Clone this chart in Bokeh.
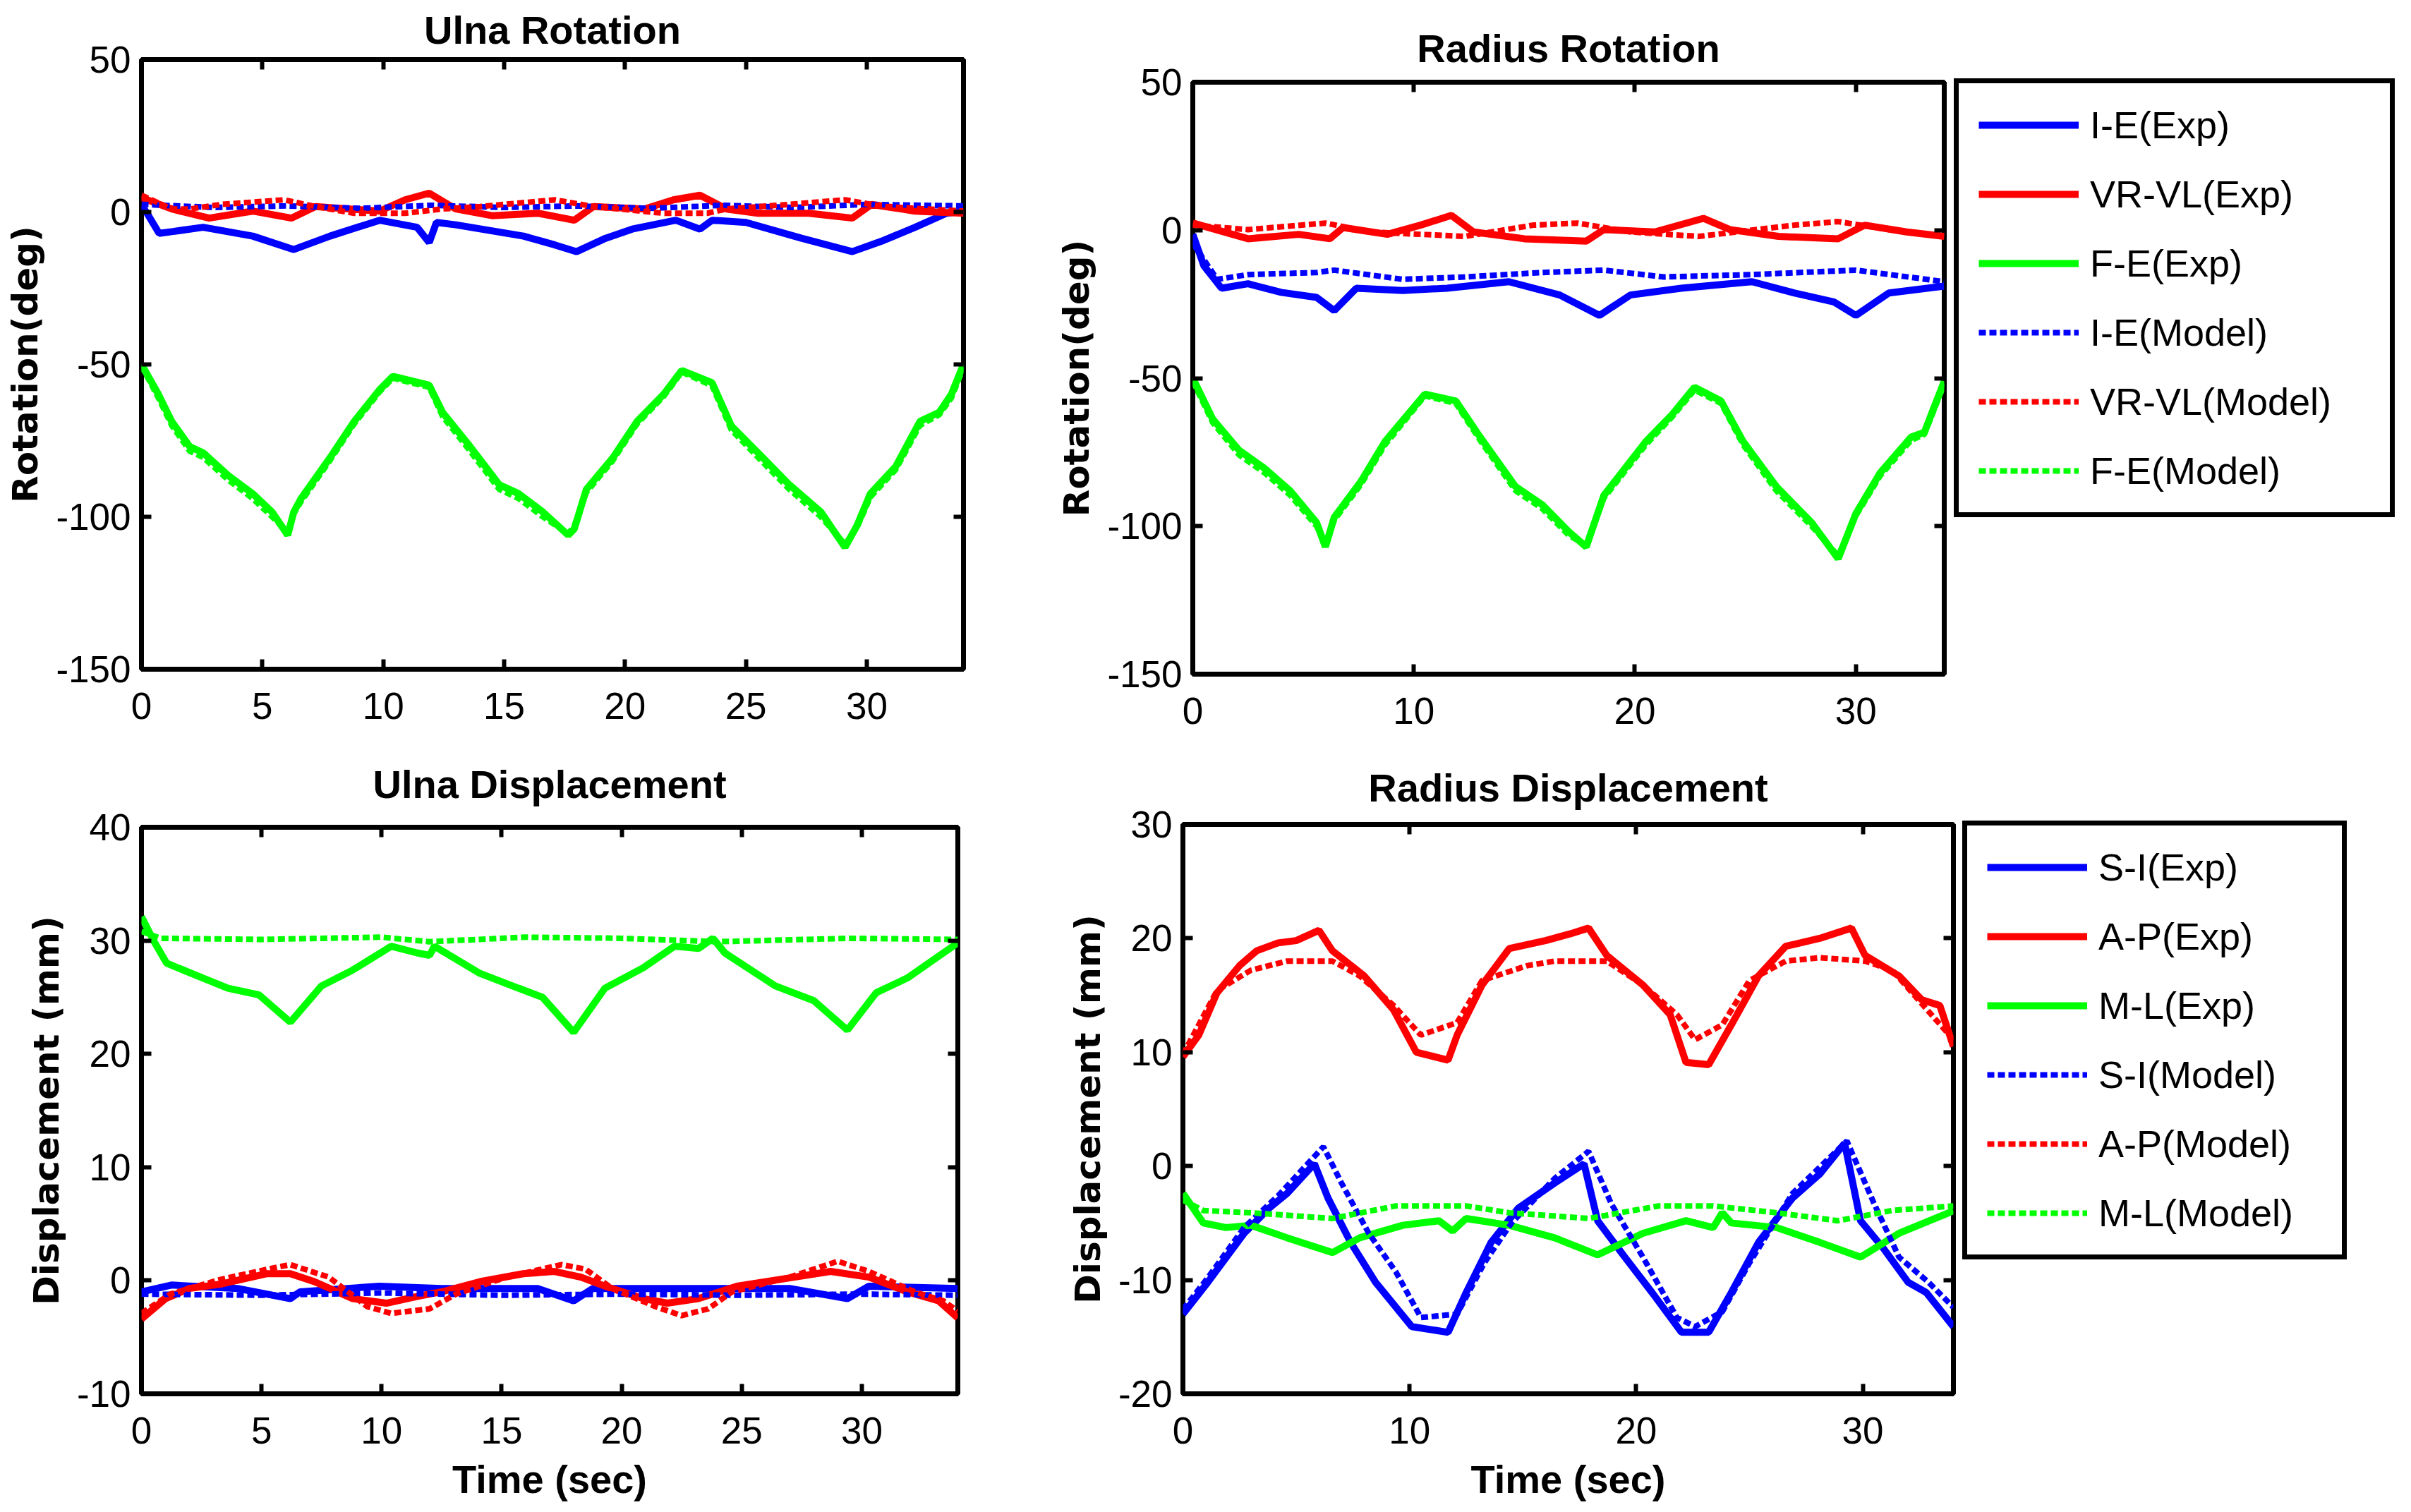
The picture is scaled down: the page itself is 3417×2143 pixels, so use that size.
from bokeh.plotting import figure
from bokeh.models import Range1d, FixedTicker, LinearAxis, Legend, LegendItem, CustomJSTickFormatter
from bokeh.layouts import row, column
from bokeh.embed import file_html
from bokeh.resources import INLINE

# ---------------- data ----------------
# Ulna Rotation
ur_ie_exp_t = [0, 0.2, 0.73, 1.3, 2.55, 4.6, 6.3, 7.8, 9.85, 11.4, 11.9, 12.2, 13.0, 15.8, 17.1, 18.0, 19.2, 20.3, 22.1, 23.1, 23.6, 25.0, 27.3, 29.4, 30.7, 32.0, 33.3, 34.0]
ur_ie_exp_y = [2, 0, -7, -6.4, -5, -7.9, -12.3, -7.9, -2.7, -5, -10, -3.4, -4.2, -7.9, -10.8, -13, -8.6, -5.6, -2.7, -5.6, -2.7, -3.4, -8.6, -13, -9.3, -5, -0.4, 0.3]
ur_vr_exp_t = [0, 1.25, 2.8, 4.6, 6.2, 7.2, 9.85, 10.9, 11.9, 13.0, 14.5, 16.4, 17.9, 18.7, 20.8, 22.0, 23.1, 24.2, 25.5, 27.6, 29.4, 30.2, 32.0, 34.0]
ur_vr_exp_y = [4.7, 1, -2, 0.3, -2, 1.8, 0.3, 4, 6.2, 1, -1.2, -0.4, -2.7, 1.8, 1, 4, 5.5, 1, -0.4, -0.4, -2, 2.5, 0.3, -0.4]
ur_fe_exp_t = [0, 0.7, 1.25, 2.0, 2.55, 3.6, 4.6, 5.4, 6.05, 6.3, 6.6, 7.8, 8.8, 9.85, 10.4, 11.9, 12.45, 13.5, 14.8, 15.6, 16.6, 17.65, 17.9, 18.4, 19.5, 20.5, 21.6, 22.35, 23.6, 24.4, 25.5, 26.8, 28.1, 29.1, 29.6, 30.15, 31.2, 32.2, 33.0, 33.5, 34.0]
ur_fe_exp_y = [-50, -59.8, -68.7, -77, -79, -86.5, -92.4, -98.4, -106, -98.4, -94, -80.6, -68.7, -58.3, -53.9, -56.8, -65.7, -76, -89.5, -92.4, -98.4, -106, -104, -91, -80.6, -68.7, -59.8, -52, -56, -70.2, -79, -89.5, -98.4, -110, -102.8, -92.4, -83.5, -68.7, -65.7, -59.8, -50]
ur_ie_mod_t = [0, 3, 6, 9, 12, 15, 18, 21, 24, 27, 30, 34]
ur_ie_mod_y = [2.5, 1.5, 2.0, 1.2, 2.2, 1.5, 2.0, 1.2, 2.2, 1.5, 2.5, 2.0]
ur_vr_mod_t = [0, 1.25, 2.0, 3.3, 5.9, 7.2, 8.8, 10.9, 12.45, 14.0, 17.1, 18.7, 21.6, 23.4, 24.2, 26.8, 29.1, 30.7, 34.0]
ur_vr_mod_y = [5.5, 1, 1, 2.5, 4, 1.8, -0.4, -0.4, 1, 1.8, 4, 1.8, -0.4, -0.4, 1, 2.5, 4, 1.8, 0.3]
ur_fe_mod_t = ur_fe_exp_t
ur_fe_mod_y = [-50.5, -61, -70, -78.5, -80.5, -88, -94, -100, -105, -99, -95, -81.5, -69.5, -59, -54.5, -57.5, -67, -77.5, -91, -94, -100, -105.5, -103, -92, -81.5, -69.5, -60.5, -52.5, -57, -71.5, -80.5, -91, -100, -109, -103.5, -93.5, -84.5, -70, -66.5, -61, -51]

# Radius Rotation
rr_ie_exp_t = [0, 0.5, 1.3, 2.5, 4.0, 5.6, 6.4, 7.4, 9.5, 11.5, 14.3, 16.6, 18.4, 19.8, 22.1, 25.3, 27.2, 29.0, 30.0, 31.5, 34.0]
rr_ie_exp_y = [-1.4, -12, -19.6, -18.1, -21, -22.7, -27.2, -19.6, -20.4, -19.6, -17.4, -21.9, -28.8, -21.9, -19.6, -17.4, -21.2, -24.2, -28.8, -21.2, -18.9]
rr_vr_exp_t = [0, 2.5, 4.8, 6.2, 6.8, 8.8, 10.3, 11.7, 12.7, 15.0, 17.8, 18.6, 20.9, 23.1, 24.3, 26.5, 29.2, 30.4, 32.3, 34.0]
rr_vr_exp_y = [2.4, -2.9, -1.4, -2.9, 0.9, -1.4, 1.7, 5, -0.6, -2.9, -3.7, 0.2, -0.6, 4, 0.2, -2.1, -2.9, 1.7, -0.6, -2.1]
rr_fe_exp_t = [0, 0.9, 2.1, 3.25, 4.4, 5.6, 6.0, 6.4, 7.6, 8.7, 10.5, 11.9, 13.0, 14.6, 15.8, 17.0, 17.8, 18.6, 20.5, 21.7, 22.7, 23.9, 24.9, 26.4, 28.0, 29.2, 30.0, 31.1, 32.5, 33.1, 34.0]
rr_fe_exp_y = [-50, -63.8, -74.4, -80.5, -88, -98.8, -107, -97, -85, -71.4, -55.4, -57.7, -69.9, -86.6, -92.7, -101.8, -107, -89.6, -71.4, -62.2, -53.1, -57.7, -71.4, -86.6, -98.8, -111, -95.8, -82, -69.9, -68.3, -51]
rr_ie_mod_t = [0, 1.1, 2.5, 5.6, 6.4, 9.5, 12.3, 15.8, 18.6, 21.3, 25.3, 30.0, 34.0]
rr_ie_mod_y = [-4.4, -16.6, -15, -14.3, -13.5, -16.6, -15.8, -14.3, -13.5, -15.8, -15, -13.5, -17.4]
rr_vr_mod_t = [0, 2.5, 6.0, 8.0, 10.3, 12.3, 15.4, 17.4, 19.8, 22.9, 23.7, 27.2, 29.2, 31.5, 34.0]
rr_vr_mod_y = [1.7, 0.2, 2.4, -0.6, -1.4, -2.1, 1.7, 2.4, -0.6, -2.1, -1.4, 1.7, 2.9, 0.2, -2.1]
rr_fe_mod_t = rr_fe_exp_t
rr_fe_mod_y = [-51, -65, -76, -82, -89.5, -100, -106, -98, -86, -72.5, -56, -58.5, -71, -88, -94, -103, -106.5, -90.5, -72.5, -63, -54, -58.5, -72.5, -88, -100, -110, -96.5, -83, -71, -69, -52]

# Ulna Displacement
ud_si_exp_t = [0, 1.25, 4.0, 6.2, 6.6, 9.9, 12.5, 16.5, 18.0, 18.8, 23.0, 27.0, 29.4, 30.3, 34.0]
ud_si_exp_y = [-1, -0.4, -0.7, -1.6, -1.0, -0.5, -0.7, -0.7, -1.8, -0.7, -0.7, -0.7, -1.6, -0.5, -0.7]
ud_ap_exp_t = [0, 1.0, 2.0, 3.35, 5.2, 6.2, 7.2, 8.8, 10.2, 11.5, 12.5, 14.1, 15.9, 17.2, 18.3, 19.3, 20.9, 21.9, 23.2, 24.8, 27.2, 28.7, 30.3, 31.9, 33.2, 34.0]
ud_ap_exp_y = [-3.4, -1.6, -0.7, -0.3, 0.6, 0.6, -0.1, -1.6, -2, -1.4, -1, -0.1, 0.6, 0.8, 0.3, -0.5, -1.6, -2, -1.6, -0.5, 0.3, 0.8, 0.3, -1, -1.8, -3.3]
ud_ml_exp_t = [0, 0.5, 1.05, 2.55, 3.6, 4.9, 6.2, 7.5, 8.8, 10.4, 11.5, 12.0, 12.2, 14.1, 15.7, 16.7, 18.0, 19.3, 20.9, 22.2, 23.2, 23.8, 24.3, 26.4, 28.0, 29.4, 30.6, 31.9, 34.0]
ud_ml_exp_y = [32.1, 30, 28, 26.7, 25.8, 25.2, 22.8, 26, 27.4, 29.5, 28.9, 28.7, 29.5, 27.1, 25.8, 25, 21.9, 25.8, 27.6, 29.5, 29.3, 30.2, 28.9, 26, 24.7, 22.1, 25.4, 26.7, 29.8]
ud_si_mod_t = [0, 5, 10, 15, 20, 25, 30, 34]
ud_si_mod_y = [-1.2, -1.3, -1.1, -1.3, -1.2, -1.3, -1.2, -1.3]
ud_ap_mod_t = [0, 1.2, 3.3, 5.7, 6.2, 7.8, 9.4, 10.4, 12.0, 13.1, 15.2, 17.5, 18.5, 19.6, 21.4, 22.5, 23.6, 24.6, 27.0, 29.0, 30.3, 32.2, 33.4, 34.0]
ud_ap_mod_y = [-2.9, -1.2, 0.1, 1.2, 1.4, 0.3, -2.3, -2.9, -2.5, -1.2, 0.3, 1.4, 1.0, -0.7, -2.3, -3.1, -2.5, -1.0, 0.3, 1.7, 0.8, -1.0, -1.8, -2.7]
ud_ml_mod_t = [0, 0.8, 5, 10, 12, 16, 20, 24, 29.5, 34]
ud_ml_mod_y = [30.8, 30.2, 30.1, 30.3, 29.9, 30.3, 30.2, 29.9, 30.2, 30.1]

# Radius Displacement
rd_si_exp_t = [0, 1.1, 2.7, 3.8, 4.6, 5.8, 6.4, 7.4, 8.5, 10.1, 11.7, 12.5, 13.6, 14.8, 16.4, 17.7, 18.3, 19.5, 20.7, 22.0, 23.2, 24.2, 25.4, 26.9, 28.1, 29.2, 29.9, 30.9, 32.0, 32.8, 34.0]
rd_si_exp_y = [-13, -10.2, -5.9, -3.7, -2.4, 0.2, -2.8, -6.7, -10.2, -14.1, -14.6, -11.1, -6.7, -3.7, -1.5, 0.2, -4.8, -8, -11.1, -14.6, -14.6, -11.1, -6.7, -2.8, -0.7, 2, -4.8, -7.2, -10.2, -11.1, -14.1]
rd_ap_exp_t = [0, 0.7, 1.5, 2.5, 3.25, 4.2, 5.0, 6.0, 6.6, 8.0, 9.3, 10.3, 11.7, 12.1, 13.2, 14.4, 16.0, 17.1, 17.9, 18.7, 20.3, 21.5, 22.2, 23.2, 24.2, 25.4, 26.6, 28.1, 29.5, 30.1, 31.6, 32.6, 33.4, 34.0]
rd_ap_exp_y = [9.6, 11.5, 15.2, 17.6, 18.9, 19.6, 19.8, 20.7, 18.9, 16.7, 13.7, 10, 9.3, 11.5, 15.9, 19.1, 19.8, 20.4, 20.9, 18.5, 15.9, 13.3, 9.1, 8.9, 12.4, 16.7, 19.3, 20, 20.9, 18.5, 16.7, 14.6, 14.1, 10.5]
rd_ml_exp_t = [0, 0.9, 1.9, 3.0, 4.6, 6.6, 7.8, 9.7, 11.3, 11.9, 12.5, 14.4, 16.4, 18.3, 20.3, 22.2, 23.4, 23.8, 24.2, 26.2, 28.1, 29.9, 31.6, 33.8, 34.0]
rd_ml_exp_y = [-2.4, -5, -5.4, -5.2, -6.3, -7.6, -6.3, -5.2, -4.8, -5.7, -4.6, -5.2, -6.3, -7.8, -5.9, -4.8, -5.4, -4.1, -5, -5.4, -6.7, -8, -5.9, -4.1, -3.9]
rd_si_mod_t = [0, 1.1, 2.7, 4.2, 6.2, 7.0, 8.2, 9.4, 10.5, 12.1, 13.3, 14.5, 16.4, 17.9, 18.9, 20.3, 21.8, 22.6, 23.8, 25.0, 26.9, 29.3, 30.5, 31.6, 32.9, 34.0]
rd_si_mod_y = [-12.6, -9.8, -5.4, -2.6, 1.7, -1.5, -5.9, -9.3, -13.3, -13, -8.5, -5, -1.1, 1.3, -3.3, -8, -13.3, -14.1, -12.8, -8.5, -2.4, 2.2, -3.3, -8, -10.2, -12.4]
rd_ap_mod_t = [0, 1.5, 3.0, 4.6, 6.6, 7.8, 9.3, 10.5, 12.1, 13.2, 15.2, 16.4, 18.7, 20.3, 21.8, 22.6, 23.8, 25.0, 26.6, 28.1, 30.1, 31.3, 34.0]
rd_ap_mod_y = [9.8, 15.4, 17.2, 18, 18, 16.7, 14.1, 11.5, 12.6, 16.3, 17.6, 18, 18, 15.9, 13.3, 11.1, 12.4, 16.3, 18, 18.3, 18, 17.2, 11.1]
rd_ml_mod_t = [0, 0.9, 3.0, 6.6, 9.4, 12.5, 14.4, 17.9, 21.0, 23.4, 26.2, 28.9, 31.3, 34.0]
rd_ml_mod_y = [-3, -3.9, -4.1, -4.6, -3.5, -3.5, -4.1, -4.6, -3.5, -3.5, -4.1, -4.8, -3.9, -3.5]

rot_labels = ["I-E(Exp)", "VR-VL(Exp)", "F-E(Exp)", "I-E(Model)", "VR-VL(Model)", "F-E(Model)"]
disp_labels = ["S-I(Exp)", "A-P(Exp)", "M-L(Exp)", "S-I(Model)", "A-P(Model)", "M-L(Model)"]
x_ticks_left = [0, 5, 10, 15, 20, 25, 30]
x_ticks_right = [0, 10, 20, 30]
rot_yticks = [-150, -100, -50, 0, 50]
ud_yticks = [-10, 0, 10, 20, 30, 40]
rd_yticks = [-20, -10, 0, 10, 20, 30]

COLORS = ["#0000ff", "#ff0000", "#00ff00"]
TICK_FONT = "Liberation Sans"
TITLE_FONT = "Liberation Sans"
YLAB_FONT = "DejaVu Sans"
LEG_FONT = "Liberation Sans"
LEG_H = 617
NAN = float("nan")


def make_fig(title, w, h, yr, xticks, yticks, ylabel, xlabel, bl, br, bt, bb, title_standoff):
    p = figure(width=w, height=h, x_range=Range1d(0, 34), y_range=Range1d(*yr),
               output_backend="svg", toolbar_location=None,
               min_border_left=bl, min_border_right=br, min_border_top=bt, min_border_bottom=bb)
    p.title.text = title
    p.title.align = "center"
    p.title.vertical_align = "top"
    p.title.text_font = TITLE_FONT
    p.title.text_font_style = "bold"
    p.title.text_font_size = "56px"
    p.title.text_color = "black"
    p.title.standoff = title_standoff
    p.grid.visible = False
    p.outline_line_color = "black"
    p.outline_line_width = 7
    p.outline_line_alpha = 1
    p.background_fill_color = "white"
    p.border_fill_color = "white"
    fmt = CustomJSTickFormatter(code="return String(tick);")
    for ax in (p.xaxis[0], p.yaxis[0]):
        ax.axis_line_color = None
        ax.major_tick_in = 14
        ax.major_tick_out = 0
        ax.major_tick_line_width = 6
        ax.minor_tick_line_color = None
        ax.major_label_text_font = TICK_FONT
        ax.major_label_text_font_size = "53px"
        ax.major_label_text_color = "black"
        ax.formatter = fmt
    p.xaxis[0].ticker = FixedTicker(ticks=xticks)
    p.yaxis[0].ticker = FixedTicker(ticks=yticks)
    p.xaxis[0].major_label_standoff = 33
    p.yaxis[0].major_label_standoff = 15
    p.yaxis[0].axis_label = ylabel
    p.yaxis[0].axis_label_text_font = YLAB_FONT
    p.yaxis[0].axis_label_text_font_style = "bold"
    p.yaxis[0].axis_label_text_font_size = "50px"
    p.yaxis[0].axis_label_text_color = "black"
    p.yaxis[0].axis_label_standoff = 11
    if xlabel:
        p.xaxis[0].axis_label = xlabel
        p.xaxis[0].axis_label_text_font = TITLE_FONT
        p.xaxis[0].axis_label_text_font_style = "bold"
        p.xaxis[0].axis_label_text_font_size = "56px"
        p.xaxis[0].axis_label_text_color = "black"
        p.xaxis[0].axis_label_standoff = 16
    # mirrored tick marks on top and right (labels not drawn)
    for loc, tk in (("above", xticks), ("right", yticks)):
        ax = LinearAxis(ticker=FixedTicker(ticks=tk))
        ax.axis_line_color = None
        ax.major_tick_in = 14
        ax.major_tick_out = 0
        ax.major_tick_line_width = 6
        ax.minor_tick_line_color = None
        ax.major_label_text_font_size = "0px"
        ax.major_label_text_color = None
        ax.major_label_standoff = 0
        p.add_layout(ax, loc)
    return p


def add_series(p, data):
    for i, (t, y) in enumerate(data):
        c = COLORS[i % 3]
        if i < 3:
            p.line(t, y, line_color=c, line_width=10)
        else:
            p.line(t, y, line_color=c, line_width=8, line_dash="10 5")


def legend_fig(w, h, labels, label_width, x_off, top_off):
    lp = figure(width=w, height=h, x_range=Range1d(0, 1), y_range=Range1d(0, 1),
                x_axis_type=None, y_axis_type=None, output_backend="svg",
                toolbar_location=None, min_border=0)
    lp.outline_line_color = None
    lp.background_fill_color = "white"
    lp.border_fill_color = "white"
    rends = []
    for i in range(6):
        c = COLORS[i % 3]
        if i < 3:
            rends.append(lp.line([NAN], [NAN], line_color=c, line_width=10))
        else:
            rends.append(lp.line([NAN], [NAN], line_color=c, line_width=8, line_dash="10 5"))
    items = [LegendItem(label=l, renderers=[r]) for l, r in zip(labels, rends)]
    lg = Legend(items=items, location=(x_off, h - top_off - LEG_H))
    lg.margin = 0
    lg.padding = 28
    lg.spacing = 36
    lg.glyph_width = 142
    lg.glyph_height = 60
    lg.label_height = 60
    lg.label_width = label_width
    lg.label_standoff = 16
    lg.label_text_font = LEG_FONT
    lg.label_text_font_size = "54px"
    lg.label_text_color = "black"
    lg.border_line_color = "black"
    lg.border_line_width = 7
    lg.border_line_alpha = 1
    lg.background_fill_color = "white"
    lg.background_fill_alpha = 1
    lp.add_layout(lg)
    return lp


H1 = 1050
H2 = 1091

p1 = make_fig("Ulna Rotation", 1484, H1, (-150, 50), x_ticks_left, rot_yticks,
              "Rotation(deg)", None, 200, 119, 84, H1 - 948, 17)
add_series(p1, [(ur_ie_exp_t, ur_ie_exp_y), (ur_vr_exp_t, ur_vr_exp_y), (ur_fe_exp_t, ur_fe_exp_y),
                (ur_ie_mod_t, ur_ie_mod_y), (ur_vr_mod_t, ur_vr_mod_y), (ur_fe_mod_t, ur_fe_mod_y)])

p2 = make_fig("Radius Rotation", 1281, H1, (-150, 50), x_ticks_right, rot_yticks,
              "Rotation(deg)", None, 206, 10, 116, H1 - 955, 29)
add_series(p2, [(rr_ie_exp_t, rr_ie_exp_y), (rr_vr_exp_t, rr_vr_exp_y), (rr_fe_exp_t, rr_fe_exp_y),
                (rr_ie_mod_t, rr_ie_mod_y), (rr_vr_mod_t, rr_vr_mod_y), (rr_fe_mod_t, rr_fe_mod_y)])
leg1 = legend_fig(650, H1, rot_labels, 397, 4, 116)

p3 = make_fig("Ulna Displacement", 1484, H2, (-10, 40), x_ticks_left, ud_yticks,
              "Displacement (mm)", "Time (sec)", 200, 127, 1172 - H1, H1 + H2 - 1975, 55)
add_series(p3, [(ud_si_exp_t, ud_si_exp_y), (ud_ap_exp_t, ud_ap_exp_y), (ud_ml_exp_t, ud_ml_exp_y),
                (ud_si_mod_t, ud_si_mod_y), (ud_ap_mod_t, ud_ap_mod_y), (ud_ml_mod_t, ud_ml_mod_y)])

p4 = make_fig("Radius Displacement", 1293, H2, (-20, 30), x_ticks_right, rd_yticks,
              "Displacement (mm)", "Time (sec)", 192, 9, 1168 - H1, H1 + H2 - 1975, 37)
add_series(p4, [(rd_si_exp_t, rd_si_exp_y), (rd_ap_exp_t, rd_ap_exp_y), (rd_ml_exp_t, rd_ml_exp_y),
                (rd_si_mod_t, rd_si_mod_y), (rd_ap_mod_t, rd_ap_mod_y), (rd_ml_mod_t, rd_ml_mod_y)])
leg2 = legend_fig(638, H2, disp_labels, 317, 4, 1168 - H1)

layout = column(row(column(p1), column(p2), column(leg1)),
                row(column(p3), column(p4), column(leg2)))
open("out.html", "w").write(file_html(layout, INLINE))
